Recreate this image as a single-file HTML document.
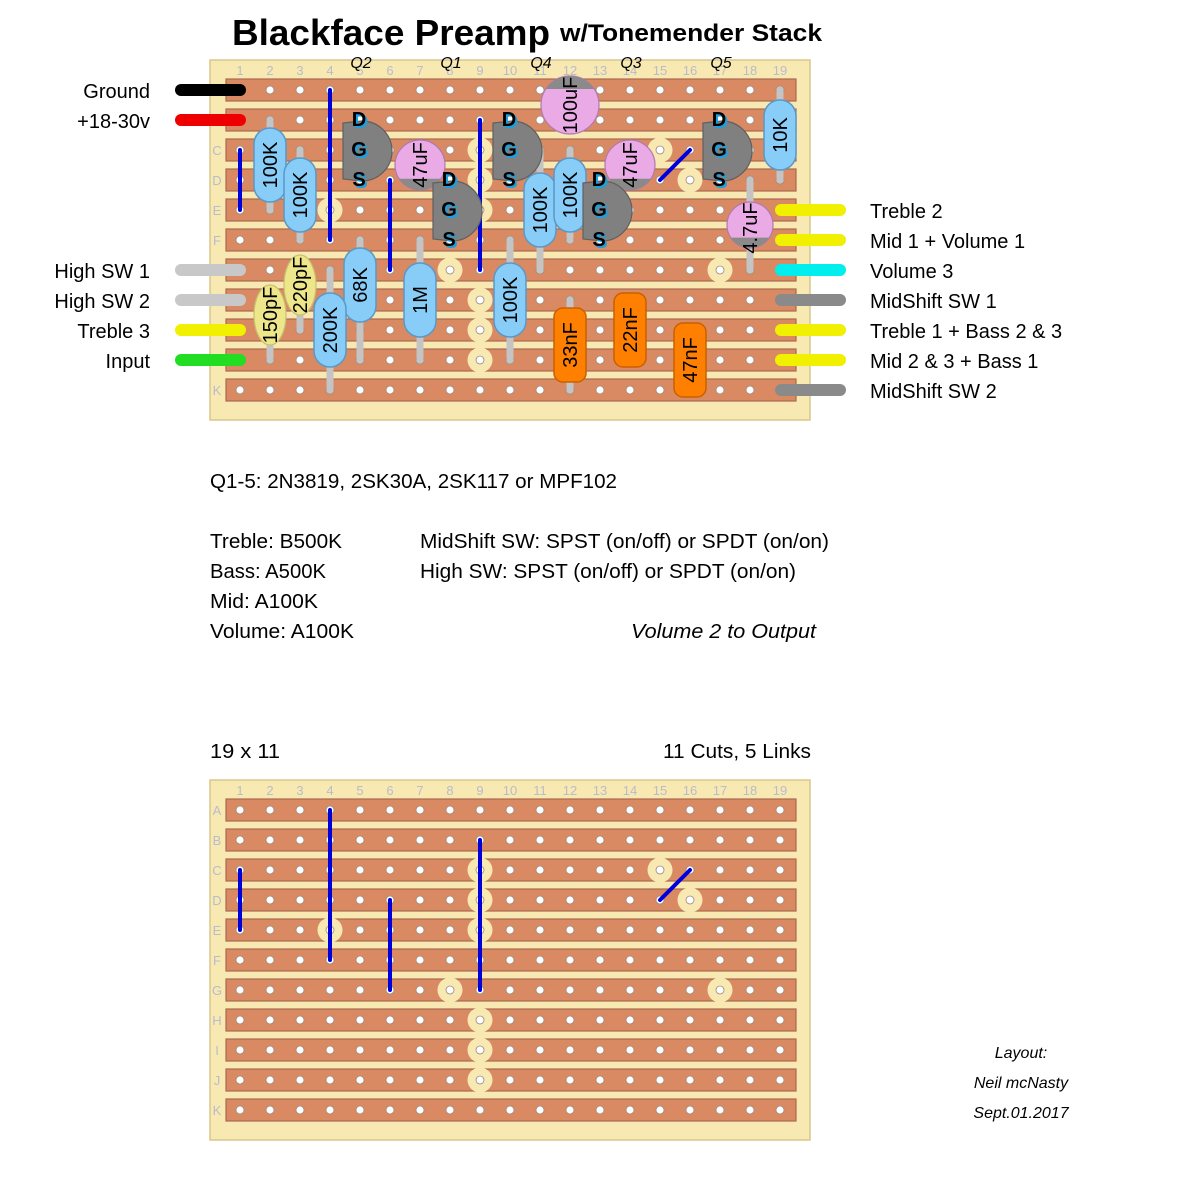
<!DOCTYPE html>
<html><head><meta charset="utf-8"><style>
html,body{margin:0;padding:0;background:#fff}
svg{display:block}
text{font-family:"Liberation Sans",sans-serif}
</style></head><body>
<svg id="s" width="1179" height="1179" viewBox="0 0 1179 1179" xmlns="http://www.w3.org/2000/svg">
<rect width="1179" height="1179" fill="#fff"/>
<!-- boards -->
<rect x="210" y="60" width="600" height="360" fill="#f8e8b2" stroke="#d9c78a" stroke-width="1.5"/>
<rect x="210" y="780" width="600" height="360" fill="#f8e8b2" stroke="#d9c78a" stroke-width="1.5"/>
<g id="strips"></g>
<g id="cuts"></g>
<g id="holes"></g>
<!-- titles -->
<text x="232" y="45" font-size="36" font-weight="bold" textLength="318" lengthAdjust="spacingAndGlyphs">Blackface Preamp</text>
<text x="560" y="41" font-size="24" font-weight="bold" textLength="262" lengthAdjust="spacingAndGlyphs">w/Tonemender Stack</text>
<g font-size="13" fill="#b9bccb" text-anchor="middle" id="nums">
<text x="240" y="75">1</text><text x="270" y="75">2</text><text x="300" y="75">3</text><text x="330" y="75">4</text><text x="360" y="75">5</text><text x="390" y="75">6</text><text x="420" y="75">7</text><text x="450" y="75">8</text><text x="480" y="75">9</text><text x="510" y="75">10</text><text x="540" y="75">11</text><text x="570" y="75">12</text><text x="600" y="75">13</text><text x="630" y="75">14</text><text x="660" y="75">15</text><text x="690" y="75">16</text><text x="720" y="75">17</text><text x="750" y="75">18</text><text x="780" y="75">19</text>
<text x="240" y="795">1</text><text x="270" y="795">2</text><text x="300" y="795">3</text><text x="330" y="795">4</text><text x="360" y="795">5</text><text x="390" y="795">6</text><text x="420" y="795">7</text><text x="450" y="795">8</text><text x="480" y="795">9</text><text x="510" y="795">10</text><text x="540" y="795">11</text><text x="570" y="795">12</text><text x="600" y="795">13</text><text x="630" y="795">14</text><text x="660" y="795">15</text><text x="690" y="795">16</text><text x="720" y="795">17</text><text x="750" y="795">18</text><text x="780" y="795">19</text>
<text x="217" y="155">C</text><text x="217" y="185">D</text><text x="217" y="215">E</text><text x="217" y="245">F</text><text x="217" y="395">K</text>
<text x="217" y="815">A</text><text x="217" y="845">B</text><text x="217" y="875">C</text><text x="217" y="905">D</text><text x="217" y="935">E</text><text x="217" y="965">F</text><text x="217" y="995">G</text><text x="217" y="1025">H</text><text x="217" y="1055">I</text><text x="217" y="1085">J</text><text x="217" y="1115">K</text>
</g>
<g font-size="16" font-style="italic" text-anchor="middle" fill="#000">
<text x="361" y="68">Q2</text><text x="451" y="68">Q1</text><text x="541" y="68">Q4</text><text x="631" y="68">Q3</text><text x="721" y="68">Q5</text>
</g>
<!-- off-board wires -->
<g stroke-linecap="round" stroke-width="12">
<line x1="181" y1="90" x2="240" y2="90" stroke="#000"/>
<line x1="181" y1="120" x2="240" y2="120" stroke="#ee0000"/>
<line x1="181" y1="270" x2="240" y2="270" stroke="#c8c8c8"/>
<line x1="181" y1="300" x2="240" y2="300" stroke="#c8c8c8"/>
<line x1="181" y1="330" x2="240" y2="330" stroke="#f0f000"/>
<line x1="181" y1="360" x2="240" y2="360" stroke="#22dd22"/>
<line x1="781" y1="210" x2="840" y2="210" stroke="#f0f000"/>
<line x1="781" y1="240" x2="840" y2="240" stroke="#f0f000"/>
<line x1="781" y1="270" x2="840" y2="270" stroke="#00eeee"/>
<line x1="781" y1="300" x2="840" y2="300" stroke="#8a8a8a"/>
<line x1="781" y1="330" x2="840" y2="330" stroke="#f0f000"/>
<line x1="781" y1="360" x2="840" y2="360" stroke="#f0f000"/>
<line x1="781" y1="390" x2="840" y2="390" stroke="#8a8a8a"/>
</g>
<!-- links -->
<g stroke="#0000dd" stroke-width="4" stroke-linecap="round">
<line x1="240" y1="150" x2="240" y2="210"/><line x1="330" y1="90" x2="330" y2="240"/><line x1="390" y1="180" x2="390" y2="270"/><line x1="480" y1="120" x2="480" y2="270"/><line x1="660" y1="180" x2="690" y2="150"/>
<line x1="240" y1="870" x2="240" y2="930"/><line x1="330" y1="810" x2="330" y2="960"/><line x1="390" y1="900" x2="390" y2="990"/><line x1="480" y1="840" x2="480" y2="990"/><line x1="660" y1="900" x2="690" y2="870"/>
</g>
<g id="comps"></g>
<!-- component labels -->
<g font-size="20" fill="#000" text-anchor="middle">
<text transform="translate(277,165) rotate(-90)">100K</text>
<text transform="translate(307,195) rotate(-90)">100K</text>
<text transform="translate(367,285) rotate(-90)">68K</text>
<text transform="translate(337,330) rotate(-90)">200K</text>
<text transform="translate(427,300) rotate(-90)">1M</text>
<text transform="translate(517,300) rotate(-90)">100K</text>
<text transform="translate(547,210) rotate(-90)">100K</text>
<text transform="translate(577,195) rotate(-90)">100K</text>
<text transform="translate(787,135) rotate(-90)">10K</text>
<text transform="translate(277,315) rotate(-90)">150pF</text>
<text transform="translate(307,285) rotate(-90)">220pF</text>
<text transform="translate(427,165) rotate(-90)">47uF</text>
<text transform="translate(577,105) rotate(-90)">100uF</text>
<text transform="translate(637,165) rotate(-90)">47uF</text>
<text transform="translate(757,228) rotate(-90)">4.7uF</text>
<text transform="translate(577,345) rotate(-90)">33nF</text>
<text transform="translate(637,330) rotate(-90)">22nF</text>
<text transform="translate(697,360) rotate(-90)">47nF</text>
</g>
<g id="qtxt" font-size="20" font-weight="bold" text-anchor="middle"></g>
<!-- side labels -->
<g font-size="20" fill="#000" text-anchor="end">
<text x="150" y="98">Ground</text><text x="150" y="128">+18-30v</text>
<text x="150" y="278">High SW 1</text><text x="150" y="308">High SW 2</text><text x="150" y="338">Treble 3</text><text x="150" y="368">Input</text>
</g>
<g font-size="20" fill="#000">
<text x="870" y="218">Treble 2</text><text x="870" y="248">Mid 1 + Volume 1</text><text x="870" y="278">Volume 3</text><text x="870" y="308">MidShift SW 1</text><text x="870" y="338">Treble 1 + Bass 2 &amp; 3</text><text x="870" y="368">Mid 2 &amp; 3 + Bass 1</text><text x="870" y="398">MidShift SW 2</text>
<text x="210" y="488" textLength="407" lengthAdjust="spacingAndGlyphs">Q1-5: 2N3819, 2SK30A, 2SK117 or MPF102</text>
<text x="210" y="548" textLength="132" lengthAdjust="spacingAndGlyphs">Treble: B500K</text>
<text x="210" y="578" textLength="116" lengthAdjust="spacingAndGlyphs">Bass: A500K</text>
<text x="210" y="608" textLength="108" lengthAdjust="spacingAndGlyphs">Mid: A100K</text>
<text x="210" y="638" textLength="144" lengthAdjust="spacingAndGlyphs">Volume: A100K</text>
<text x="420" y="548" textLength="409" lengthAdjust="spacingAndGlyphs">MidShift SW: SPST (on/off) or SPDT (on/on)</text>
<text x="420" y="578" textLength="376" lengthAdjust="spacingAndGlyphs">High SW: SPST (on/off) or SPDT (on/on)</text>
<text x="631" y="638" font-style="italic" textLength="185" lengthAdjust="spacingAndGlyphs">Volume 2 to Output</text>
<text x="210" y="758" textLength="70" lengthAdjust="spacingAndGlyphs">19 x 11</text>
<text x="663" y="758" textLength="148" lengthAdjust="spacingAndGlyphs">11 Cuts, 5 Links</text>
</g>
<g font-size="16" font-style="italic" text-anchor="middle">
<text x="1021" y="1058">Layout:</text><text x="1021" y="1088">Neil mcNasty</text><text x="1021" y="1118">Sept.01.2017</text>
</g>
</svg>
<script>
var NS="http://www.w3.org/2000/svg";
function el(p,t,a){var e=document.createElementNS(NS,t);for(var k in a)e.setAttribute(k,a[k]);document.getElementById(p).appendChild(e);return e;}
[60,780].forEach(function(b){
 for(var r=1;r<=11;r++){var y=b+30*r;
  el("strips","rect",{x:226,y:y-11,width:570,height:22,fill:"#d98a62",stroke:"#a86a50","stroke-width":1.2});
  for(var c=1;c<=19;c++)el("holes","circle",{cx:210+30*c,cy:y,r:4,fill:"#fff",stroke:"#9a8a80","stroke-width":0.8});
 }
 var cuts=[[4,5],[8,7],[9,3],[9,4],[9,5],[9,8],[9,9],[9,10],[15,3],[16,4],[17,7]];
 cuts.forEach(function(q){el("cuts","circle",{cx:210+30*q[0],cy:b+30*q[1],r:12.5,fill:"#f8e8b2"});});
});
function X(c){return 210+30*c}function Y(r){return 60+30*r}
function lead(x,y1,y2){el("comps","line",{x1:x,y1:y1,x2:x,y2:y2,stroke:"#c4c4c4","stroke-width":7,"stroke-linecap":"round"});}
function res(c,r1,r2,cy,len){var x=X(c);lead(x,Y(r1),Y(r2));len=len||74;
 el("comps","rect",{x:x-16,y:cy-len/2,width:32,height:len,rx:16,fill:"#87cdf8",stroke:"#5a98c8","stroke-width":1.5});
 el("comps","rect",{x:x-13,y:cy-len/2+20,width:26,height:len-40,fill:"#87cdf8"});}
res(2,2,5,165);res(3,3,6,195);res(5,6,10,285);res(4,7,11,330);res(7,6,10,300);res(10,6,10,300);res(11,3,7,210);res(12,3,6,195);res(19,1,4,135,70);
function cer(c,r1,r2,cy){var x=X(c);lead(x,Y(r1),Y(r2));el("comps","ellipse",{cx:x,cy:cy,rx:16,ry:30,fill:"#eee68a",stroke:"#c8c070","stroke-width":1.2});}
cer(2,8,10,315);cer(3,7,9,285);
function film(c,r1,r2,cy){var x=X(c);lead(x,Y(r1),Y(r2));el("comps","rect",{x:x-16,y:cy-37,width:32,height:74,rx:9,fill:"#ff8000",stroke:"#c86000","stroke-width":1.5});}
film(12,8,11,345);film(14,8,10,330);film(16,9,11,360);
function elec(cx,cy,r,top,l1,l2){if(l1)lead(cx,l1,l2);
 el("comps","circle",{cx:cx,cy:cy,r:r,fill:"#eaaae6",stroke:"#b07ab0","stroke-width":1.2});
 var h=r*0.55, w=Math.sqrt(r*r-h*h);
 var d=top?"M"+(cx-w)+","+(cy-h)+" A"+r+","+r+" 0 0 1 "+(cx+w)+","+(cy-h)+" Z":"M"+(cx-w)+","+(cy+h)+" A"+r+","+r+" 0 0 0 "+(cx+w)+","+(cy+h)+" Z";
 el("comps","path",{d:d,fill:"#8a8a8a"});}
elec(420,165,25,false);elec(570,105,29,true);elec(630,165,25,false);elec(750,225,23,false,180,270);
function fet(c,r){var x=X(c),y=Y(r);
 el("comps","path",{d:"M"+(x-17)+","+(y+3)+" L"+(x+2)+","+(y+1)+" A30,30 0 0 1 "+(x+2)+","+(y+61)+" L"+(x-17)+","+(y+59)+" Z",fill:"#808080",stroke:"#606060","stroke-width":1.2});
 ["D","G","S"].forEach(function(L,i){
  var t=el("qtxt","text",{x:x+1,y:y+30*i+8,fill:"#1aa0e0"});t.textContent=L;
  var t2=el("qtxt","text",{x:x-1,y:y+30*i+6,fill:"#000"});t2.textContent=L;});}
fet(5,2);fet(8,4);fet(10,2);fet(13,4);fet(17,2);
</script>
</body></html>
